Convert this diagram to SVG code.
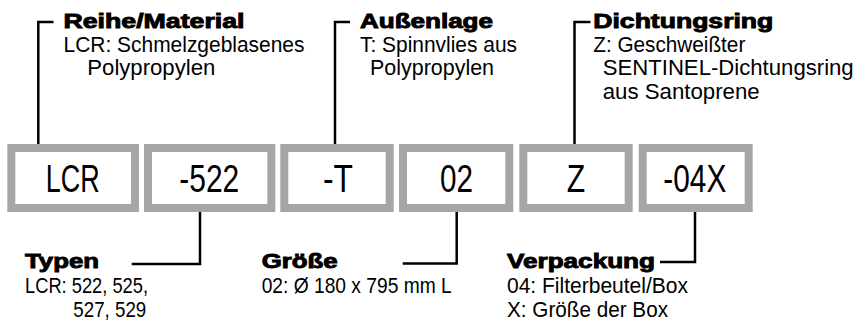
<svg xmlns="http://www.w3.org/2000/svg" width="859" height="324" viewBox="0 0 859 324">
<style>
.box{fill:#fff;stroke:#a6a6a6;stroke-width:8}
.code{font-family:"Liberation Sans Narrow","Liberation Sans",Arial,sans-serif;font-size:39px;fill:#000}
.hd{font-family:"Liberation Sans",Arial,sans-serif;font-weight:bold;font-size:20px;fill:#000;stroke:#000;stroke-width:0.9}
.ds{font-family:"Liberation Sans Narrow","Liberation Sans",Arial,sans-serif;font-size:22px;fill:#000}
.ln{fill:none;stroke:#000;stroke-width:2.5}
</style>
<rect width="859" height="324" fill="#fff"/>
<g id="connectors">
<path class="ln" d="M53.5,22 H38.3 V144"/>
<path class="ln" d="M350,22 H335 V144"/>
<path class="ln" d="M590.5,22 H574.5 V144"/>
<path class="ln" d="M200,212 V264 H131.7"/>
<path class="ln" d="M456.7,212 V263.5 H402.7"/>
<path class="ln" d="M695,212 V262 H660"/>
</g>
<g id="box-lcr"><rect class="box" x="11.3" y="148" width="123.7" height="60"/><text class="code" x="45.7" y="192" textLength="54" lengthAdjust="spacingAndGlyphs">LCR</text></g>
<g id="box-522"><rect class="box" x="148" y="148" width="123.3" height="60"/><text class="code" x="179.3" y="192" textLength="60" lengthAdjust="spacingAndGlyphs">-522</text></g>
<g id="box-t"><rect class="box" x="284.3" y="148" width="105.4" height="60"/><text class="code" x="323" y="192" textLength="30" lengthAdjust="spacingAndGlyphs">-T</text></g>
<g id="box-02"><rect class="box" x="403" y="148" width="106.3" height="60"/><text class="code" x="440" y="192" textLength="33" lengthAdjust="spacingAndGlyphs">02</text></g>
<g id="box-z"><rect class="box" x="523.3" y="148" width="105.4" height="60"/><text class="code" x="566.7" y="192" textLength="18.5" lengthAdjust="spacingAndGlyphs">Z</text></g>
<g id="box-04x"><rect class="box" x="642.7" y="148" width="106" height="60"/><text class="code" x="663.3" y="192" textLength="63" lengthAdjust="spacingAndGlyphs">-04X</text></g>
<g id="label-reihe">
<text class="hd" x="63.5" y="28" textLength="181" lengthAdjust="spacingAndGlyphs">Reihe/Material</text>
<text class="ds" x="63.5" y="52" textLength="241" lengthAdjust="spacingAndGlyphs">LCR: Schmelzgeblasenes</text>
<text class="ds" x="87.3" y="75.3" textLength="128" lengthAdjust="spacingAndGlyphs">Polypropylen</text>
</g>
<g id="label-aussenlage">
<text class="hd" x="360" y="28" textLength="133" lengthAdjust="spacingAndGlyphs">Außenlage</text>
<text class="ds" x="360" y="52" textLength="157" lengthAdjust="spacingAndGlyphs">T: Spinnvlies aus</text>
<text class="ds" x="370" y="75.3" textLength="124" lengthAdjust="spacingAndGlyphs">Polypropylen</text>
</g>
<g id="label-dichtungsring">
<text class="hd" x="593.3" y="28" textLength="180" lengthAdjust="spacingAndGlyphs">Dichtungsring</text>
<text class="ds" x="593.3" y="52" textLength="152" lengthAdjust="spacingAndGlyphs">Z: Geschweißter</text>
<text class="ds" x="602.7" y="75.3" textLength="251" lengthAdjust="spacingAndGlyphs">SENTINEL-Dichtungsring</text>
<text class="ds" x="602.7" y="98.6" textLength="157" lengthAdjust="spacingAndGlyphs">aus Santoprene</text>
</g>
<g id="label-typen">
<text class="hd" x="25" y="268.3" textLength="74" lengthAdjust="spacingAndGlyphs">Typen</text>
<text class="ds" x="25" y="293" textLength="123" lengthAdjust="spacingAndGlyphs">LCR: 522, 525,</text>
<text class="ds" x="73.3" y="317" textLength="73" lengthAdjust="spacingAndGlyphs">527, 529</text>
</g>
<g id="label-groesse">
<text class="hd" x="261.7" y="268.3" textLength="76" lengthAdjust="spacingAndGlyphs">Größe</text>
<text class="ds" x="261.7" y="293" textLength="190" lengthAdjust="spacingAndGlyphs">02: Ø 180 x 795 mm L</text>
</g>
<g id="label-verpackung">
<text class="hd" x="507" y="268.3" textLength="148" lengthAdjust="spacingAndGlyphs">Verpackung</text>
<text class="ds" x="507" y="293" textLength="181" lengthAdjust="spacingAndGlyphs">04: Filterbeutel/Box</text>
<text class="ds" x="507" y="317" textLength="161" lengthAdjust="spacingAndGlyphs">X: Größe der Box</text>
</g>
</svg>
